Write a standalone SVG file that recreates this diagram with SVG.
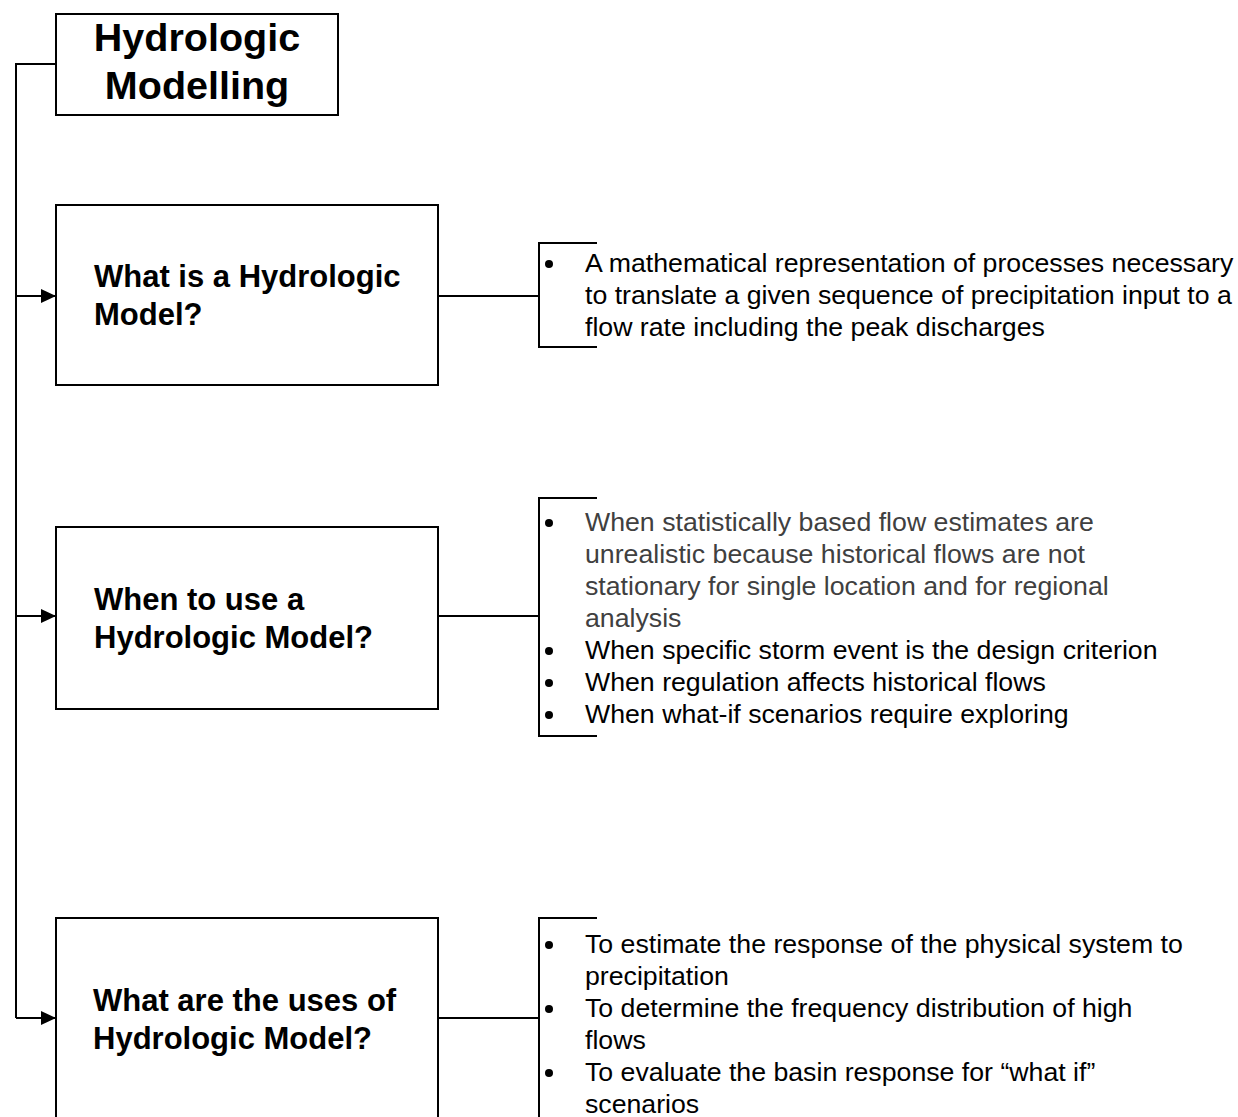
<svg xmlns="http://www.w3.org/2000/svg" width="1238" height="1117" viewBox="0 0 1238 1117">
  <style>
    .box { fill: #ffffff; stroke: #000000; stroke-width: 2; }
    .wire { fill: none; stroke: #000000; stroke-width: 2; }
    .bracket { fill: none; stroke: #000000; stroke-width: 2; }
    .title { font-family: "Liberation Sans", Arial, sans-serif; font-weight: bold; font-size: 39.5px; fill: #000000; }
    .label { font-family: "Liberation Sans", Arial, sans-serif; font-weight: bold; font-size: 31px; fill: #000000; }
    .item { font-family: "Liberation Sans", Arial, sans-serif; font-size: 26.7px; fill: #000000; }
    .item.soft { fill: #404040; }
    .dot { fill: #000000; }
  </style>
  <defs>
    <marker id="arrow" markerUnits="userSpaceOnUse" markerWidth="16" markerHeight="16" refX="15" refY="7" orient="auto">
      <path d="M0,0 L15,7 L0,14 Z" fill="#000000"/>
    </marker>
  </defs>

  <rect width="1238" height="1117" fill="#ffffff"/>

  <!-- connectors -->
  <g id="connectors">
    <path class="wire" d="M56,64 H16 V1018"/>
    <path class="wire" d="M16,296 H56" marker-end="url(#arrow)"/>
    <path class="wire" d="M16,616 H56" marker-end="url(#arrow)"/>
    <path class="wire" d="M16,1018 H56" marker-end="url(#arrow)"/>
    <path class="wire" d="M438,296 H539"/>
    <path class="wire" d="M438,616 H539"/>
    <path class="wire" d="M438,1018 H539"/>
  </g>

  <!-- root node -->
  <g id="node-root">
    <rect class="box" x="56" y="14" width="282" height="101"/>
    <text class="title" x="197" y="51" text-anchor="middle">Hydrologic</text>
    <text class="title" x="197" y="99" text-anchor="middle">Modelling</text>
  </g>

  <!-- question nodes -->
  <g id="node-what">
    <rect class="box" x="56" y="205" width="382" height="180"/>
    <text class="label" x="94" y="287">What is a Hydrologic</text>
    <text class="label" x="94" y="325">Model?</text>
  </g>

  <g id="node-when">
    <rect class="box" x="56" y="527" width="382" height="182"/>
    <text class="label" x="94" y="610">When to use a</text>
    <text class="label" x="94" y="648">Hydrologic Model?</text>
  </g>

  <g id="node-uses">
    <rect class="box" x="56" y="918" width="382" height="210"/>
    <text class="label" x="93" y="1011">What are the uses of</text>
    <text class="label" x="93" y="1049">Hydrologic Model?</text>
  </g>

  <!-- answer lists -->
  <g id="list-what">
    <path class="bracket" d="M597,243 H539 V347 H597"/>
    <circle class="dot" cx="549" cy="264" r="4"/>
    <text class="item" x="585" y="272">A mathematical representation of processes necessary</text>
    <text class="item" x="585" y="304">to translate a given sequence of precipitation input to a</text>
    <text class="item" x="585" y="336">flow rate including the peak discharges</text>
  </g>

  <g id="list-when">
    <path class="bracket" d="M597,498 H539 V736 H597"/>
    <circle class="dot" cx="549" cy="523" r="4"/>
    <circle class="dot" cx="549" cy="651" r="4"/>
    <circle class="dot" cx="549" cy="683" r="4"/>
    <circle class="dot" cx="549" cy="715" r="4"/>
    <text class="item soft" x="585" y="531">When statistically based flow estimates are</text>
    <text class="item soft" x="585" y="563">unrealistic because historical flows are not</text>
    <text class="item soft" x="585" y="595">stationary for single location and for regional</text>
    <text class="item soft" x="585" y="627">analysis</text>
    <text class="item" x="585" y="659">When specific storm event is the design criterion</text>
    <text class="item" x="585" y="691">When regulation affects historical flows</text>
    <text class="item" x="585" y="723">When what-if scenarios require exploring</text>
  </g>

  <g id="list-uses">
    <path class="bracket" d="M597,918 H539 V1130"/>
    <circle class="dot" cx="549" cy="945" r="4"/>
    <circle class="dot" cx="549" cy="1009" r="4"/>
    <circle class="dot" cx="549" cy="1073" r="4"/>
    <text class="item" x="585" y="953">To estimate the response of the physical system to</text>
    <text class="item" x="585" y="985">precipitation</text>
    <text class="item" x="585" y="1017">To determine the frequency distribution of high</text>
    <text class="item" x="585" y="1049">flows</text>
    <text class="item" x="585" y="1081">To evaluate the basin response for “what if”</text>
    <text class="item" x="585" y="1113">scenarios</text>
  </g>
</svg>
